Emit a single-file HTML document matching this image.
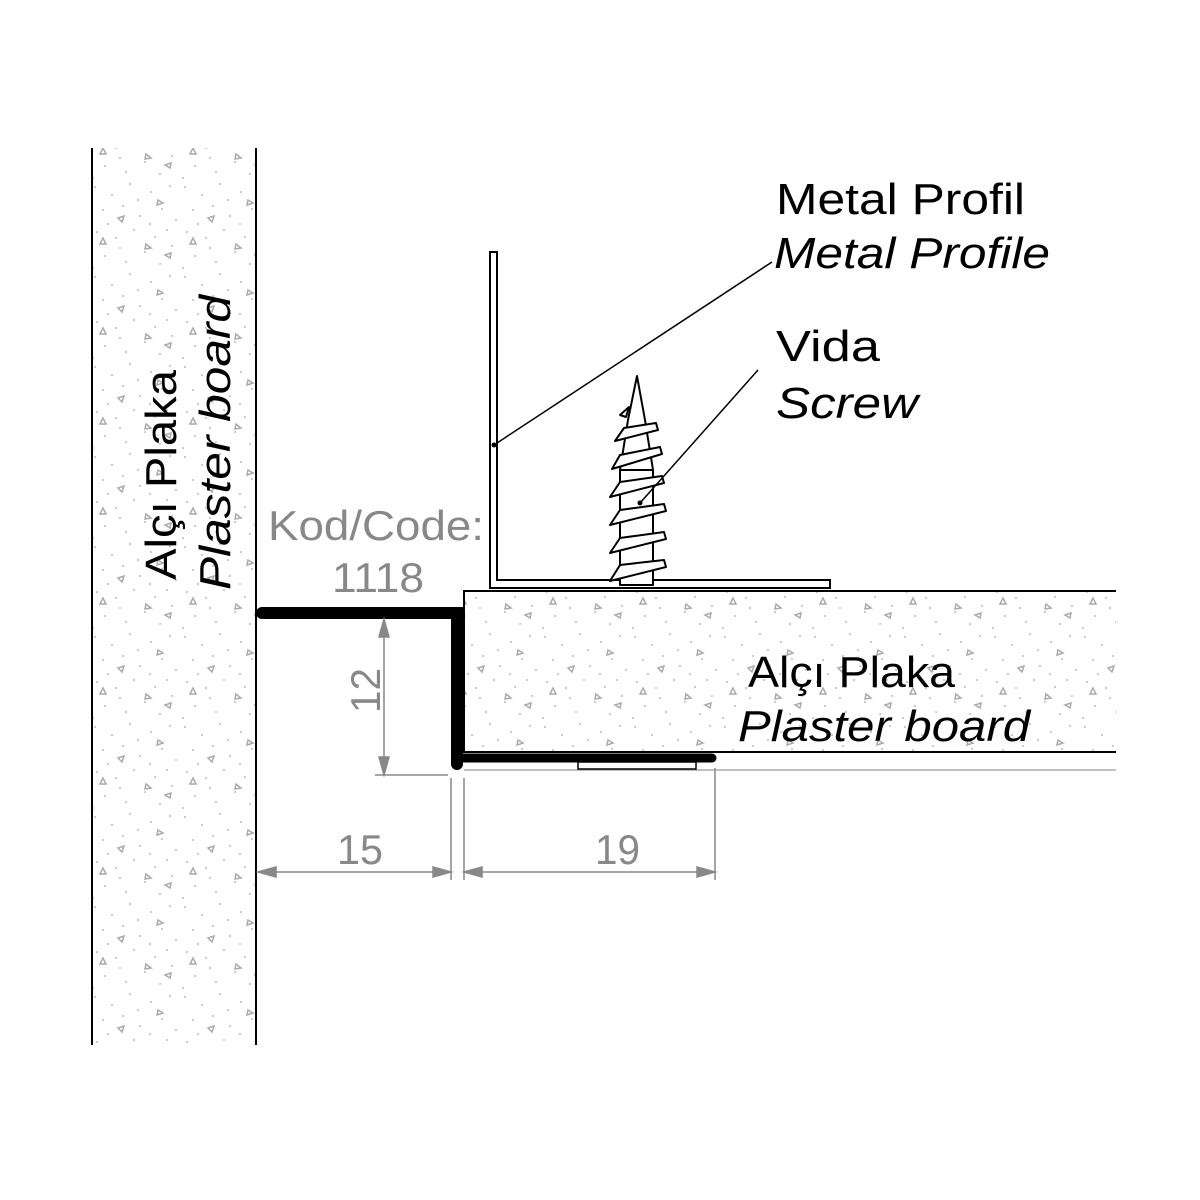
<!DOCTYPE html>
<html><head><style>
html,body{margin:0;padding:0;background:#fff}
svg{display:block}
text{font-family:"Liberation Sans",sans-serif}
</style></head><body>
<svg width="1200" height="1200" viewBox="0 0 1200 1200" xmlns="http://www.w3.org/2000/svg">
<defs>
<pattern id="sp" width="90" height="90" patternUnits="userSpaceOnUse">
<g fill="#bbb">
<circle cx="5" cy="7" r="1"/><circle cx="22" cy="15" r="1"/><circle cx="40" cy="4" r="1"/><circle cx="61" cy="12" r="1"/><circle cx="80" cy="6" r="1"/>
<circle cx="13" cy="30" r="1"/><circle cx="33" cy="26" r="1"/><circle cx="50" cy="36" r="1"/><circle cx="72" cy="29" r="1"/><circle cx="86" cy="40" r="1"/>
<circle cx="7" cy="52" r="1"/><circle cx="26" cy="58" r="1"/><circle cx="44" cy="50" r="1"/><circle cx="65" cy="57" r="1"/><circle cx="82" cy="66" r="1"/>
<circle cx="15" cy="76" r="1"/><circle cx="36" cy="82" r="1"/><circle cx="55" cy="72" r="1"/><circle cx="70" cy="84" r="1"/><circle cx="3" cy="88" r="1"/>
<circle cx="48" cy="20" r="1"/><circle cx="18" cy="44" r="1"/><circle cx="60" cy="44" r="1"/><circle cx="30" cy="68" r="1"/><circle cx="77" cy="50" r="1"/>
</g>
<g fill="none" stroke="#aaa" stroke-width="1.5">
<path d="M28 38 l6 -2 l-2 6 z"/><path d="M68 20 l5 3 l-6 2 z"/><path d="M10 64 l6 0 l-3 -6 z"/><path d="M56 64 l5 4 l-6 1 z"/><path d="M80 78 l-5 -3 l6 -2 z"/>
</g>
</pattern>
</defs>
<rect x="92" y="148" width="164" height="897" fill="url(#sp)"/>
<line x1="92" y1="148" x2="92" y2="1045" stroke="#000" stroke-width="2"/>
<line x1="256" y1="148" x2="256" y2="1045" stroke="#000" stroke-width="2"/>
<rect x="464" y="591" width="652" height="161" fill="url(#sp)"/>
<path d="M1116 591 H464 V752 H1116" fill="none" stroke="#000" stroke-width="2"/>
<line x1="464" y1="770" x2="1116" y2="770" stroke="#aaa" stroke-width="1.5"/>
<path d="M490 252 H497 V580 H830 V588 H490 Z" fill="#fff" stroke="#000" stroke-width="2"/>
<g fill="#fff" stroke="#000" stroke-width="2" stroke-linejoin="round">
<path d="M637 376 L645 420 L653 470 L653 585 L620 585 L620 470 L628 420 Z"/>
<path d="M620 415 L629 407 L626 417 Z"/>
<path d="M624 428 L656 423 L658 430 L615 441 Z"/>
<path d="M620 455 L660 447 L662 454 L612 469 Z"/>
<path d="M620 482 L662 476 L664 483 L610 497 Z"/>
<path d="M620 510 L664 504 L666 511 L610 525 Z"/>
<path d="M620 538 L664 532 L666 539 L610 553 Z"/>
<path d="M620 565 L664 560 L666 567 L610 581 Z"/>
</g>
<line x1="620" y1="470" x2="653" y2="470" stroke="#000" stroke-width="2"/>
<path d="M262 613 H457 V764" fill="none" stroke="#000" stroke-width="12" stroke-linecap="round"/>
<path d="M457 758 H712" fill="none" stroke="#000" stroke-width="9" stroke-linecap="round"/>
<rect x="578" y="762" width="118" height="7" fill="#fff" stroke="#000" stroke-width="1.5"/>
<line x1="494" y1="445" x2="772" y2="262" stroke="#000" stroke-width="1.5"/>
<circle cx="494" cy="445" r="2.5"/>
<line x1="640" y1="503" x2="758" y2="370" stroke="#000" stroke-width="1.5"/>
<circle cx="640" cy="503" r="2.5"/>
<g stroke="#888" stroke-width="1.5" fill="#888">
<line x1="384" y1="620" x2="384" y2="775"/>
<line x1="375" y1="775" x2="448" y2="775"/>
<path d="M384 619 l-5 18 h10 z"/><path d="M384 775 l-5 -18 h10 z"/>
<line x1="451" y1="778" x2="451" y2="880"/>
<line x1="464" y1="778" x2="464" y2="880"/>
<line x1="715" y1="768" x2="715" y2="880"/>
<line x1="258" y1="872" x2="451" y2="872"/>
<line x1="464" y1="872" x2="715" y2="872"/>
<path d="M258 872 l18 -5 v10 z"/><path d="M451 872 l-18 -5 v10 z"/>
<path d="M464 872 l18 -5 v10 z"/><path d="M715 872 l-18 -5 v10 z"/>
</g>
<g fill="#888" font-size="42" lengthAdjust="spacingAndGlyphs">
<text x="337" y="864" textLength="46" lengthAdjust="spacingAndGlyphs">15</text>
<text x="595" y="864" textLength="45" lengthAdjust="spacingAndGlyphs">19</text>
<text transform="translate(380 713) rotate(-90)" textLength="45" lengthAdjust="spacingAndGlyphs">12</text>
<text x="268" y="540" textLength="216" lengthAdjust="spacingAndGlyphs">Kod/Code:</text>
<text x="332" y="592" textLength="92" lengthAdjust="spacingAndGlyphs">1118</text>
</g>
<g fill="#000" font-size="44">
<text x="776" y="214" textLength="249" lengthAdjust="spacingAndGlyphs">Metal Profil</text>
<text x="774" y="268" font-style="italic" textLength="276" lengthAdjust="spacingAndGlyphs">Metal Profile</text>
<text x="776" y="361" textLength="104" lengthAdjust="spacingAndGlyphs">Vida</text>
<text x="776" y="418" font-style="italic" textLength="142" lengthAdjust="spacingAndGlyphs">Screw</text>
<text x="748" y="687" textLength="207" lengthAdjust="spacingAndGlyphs">Alçı Plaka</text>
<text x="738" y="741" font-style="italic" textLength="292" lengthAdjust="spacingAndGlyphs">Plaster board</text>
<text transform="translate(176 580) rotate(-90)" textLength="210" lengthAdjust="spacingAndGlyphs">Alçı Plaka</text>
<text transform="translate(230 590) rotate(-90)" font-style="italic" textLength="295" lengthAdjust="spacingAndGlyphs">Plaster board</text>
</g>
</svg>
</body></html>
